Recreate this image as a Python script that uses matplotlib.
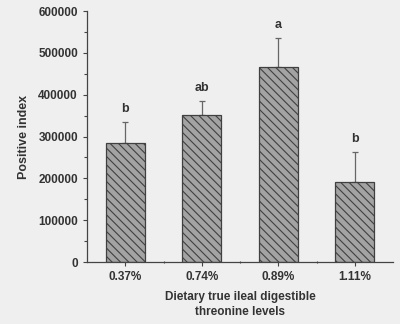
import matplotlib
matplotlib.use("Agg")
import matplotlib.pyplot as plt
from matplotlib.ticker import MultipleLocator

plt.rcParams['font.family'] = ['Liberation Sans', 'DejaVu Sans']
plt.rcParams['hatch.color'] = '#505050'
plt.rcParams['hatch.linewidth'] = 0.8

# data
levels = ['0.37%', '0.74%', '0.89%', '1.11%']
positive_index = [285000, 352000, 467000, 192000]
sem = [50000, 33000, 68000, 71000]
letters = ['b', 'ab', 'a', 'b']

bg = '#efefef'
txt = '#333333'

fig = plt.figure(figsize=(4, 3.24), dpi=100, facecolor=bg)
ax = fig.add_axes([0.2175, 0.191, 0.765, 0.775], facecolor=bg)

x = list(range(len(levels)))
ax.bar(x, positive_index, width=0.51, color='#a3a3a3', edgecolor='#404040',
       linewidth=0.9, hatch='\\\\\\\\', zorder=2)
ax.errorbar(x, positive_index, yerr=[[0] * len(sem), sem], fmt='none',
            ecolor='#666666', elinewidth=0.9, capsize=2, capthick=0.9, zorder=1)

# significance letters
for xi, v, s, lab in zip(x, positive_index, sem, letters):
    ax.annotate(lab, (xi, v + s), xytext=(0, 5), textcoords='offset points',
                ha='center', va='bottom', fontsize=9, fontweight='bold', color=txt)

ax.set_xlim(-0.5, 3.5)
ax.set_ylim(0, 600000)
ax.set_xticks(x)
ax.set_xticklabels(levels)
ax.set_xticks([0.5, 1.5, 2.5], minor=True)
ax.yaxis.set_major_locator(MultipleLocator(100000))
ax.yaxis.set_minor_locator(MultipleLocator(50000))

for side in ['top', 'right']:
    ax.spines[side].set_visible(False)
for side in ['left', 'bottom']:
    ax.spines[side].set_color('#444444')
    ax.spines[side].set_linewidth(0.9)

ax.tick_params(axis='both', which='major', length=3, width=0.8, color='#444444',
               labelsize=8.5, labelcolor=txt)
ax.tick_params(axis='y', which='minor', length=2, width=0.8, color='#444444')
ax.tick_params(axis='x', which='minor', length=2, width=0.8, color='#444444', direction='inout')
for lbl in ax.get_xticklabels() + ax.get_yticklabels():
    lbl.set_fontweight('bold')

ax.set_ylabel('Positive index', fontsize=9, fontweight='bold', color=txt, labelpad=6)
ax.set_xlabel('Dietary true ileal digestible\nthreonine levels', fontsize=8.5,
              fontweight='bold', color=txt, labelpad=6, linespacing=1.3)

fig.savefig('out.png', dpi=100, facecolor=bg)
